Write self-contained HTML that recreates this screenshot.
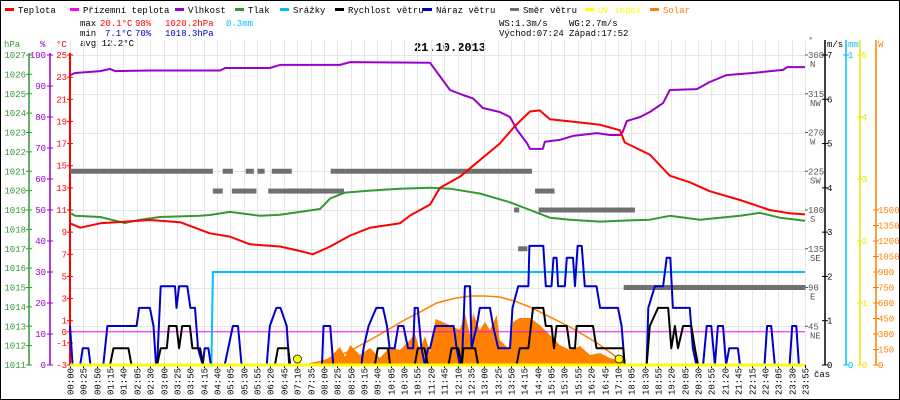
<!DOCTYPE html>
<html><head><meta charset="utf-8"><style>
html,body{margin:0;padding:0;background:#fff}
svg{display:block;font-family:"Liberation Mono",monospace;font-size:9px}
</style></head><body>
<svg id="c" width="900" height="400" viewBox="0 0 900 400" xmlns="http://www.w3.org/2000/svg">
<rect x="0.5" y="0.5" width="899" height="399" fill="#fff" stroke="#000"/>
<g id="legend"></g>
<g>
<text x="80" y="26" fill="#000">max</text><text x="100" y="26" fill="#f00">20.1°C</text><text x="135" y="26" fill="#f00">98%</text><text x="165" y="26" fill="#f00">1020.2hPa</text><text x="226" y="26" fill="#00bfff">0.3mm</text>
<text x="80" y="36" fill="#000">min</text><text x="105" y="36" fill="#00c">7.1°C</text><text x="135" y="36" fill="#00c">70%</text><text x="165" y="36" fill="#00c">1018.3hPa</text>
<text x="80" y="46" fill="#000">avg 12.2°C</text>
<text x="499" y="26" fill="#000">WS:1.3m/s</text><text x="569" y="26" fill="#000">WG:2.7m/s</text>
<text x="499" y="36" fill="#000">Východ:07:24</text><text x="569" y="36" fill="#000">Západ:17:52</text>
</g>
<text x="450" y="51" text-anchor="middle" font-size="12" font-weight="bold" fill="#000">21.10.2013</text>
<g id="grid"></g><g id="axes"></g><g id="series"></g>
</svg>
<script>
// ---- data (plot position in "minutes" of 0..1435 / values) ----
const tempT=[0,20,59,156,215,273,312,351,410,449,474,508,547,586,644,664,703,722,761,800,839,869,898,917,937,976,1035,1074,1083,1132,1171,1210,1249,1308,1366,1405,1435];
const tempV=[9.8,9.4,9.8,10.1,9.9,8.9,8.6,7.9,7.7,7.3,7.0,7.7,8.7,9.4,9.8,10.5,11.5,13.0,14,15.5,17,18.6,19.9,20.0,19.2,19.0,18.7,18.2,17.1,16,14.1,13.5,12.7,11.9,11,10.7,10.6];
const humT=[0,10,59,78,88,156,293,303,390,410,527,547,703,742,767,787,806,839,859,873,892,898,923,927,956,982,1029,1054,1074,1079,1087,1113,1132,1158,1171,1224,1249,1282,1333,1392,1400,1435];
const humV=[93.5,94.2,94.8,95.5,94.8,95,95,95.8,95.8,96.8,96.8,97.7,97.5,88.7,87.1,86,82.9,81.6,80,75.8,71.6,69.7,69.7,72,72.6,73.9,74.8,74.2,74.2,75.2,78.7,80,81.6,84.5,88.7,89,91.3,93.5,94.2,95.2,96.1,96.1];
const presT=[0,10,59,107,137,176,254,273,312,371,410,449,488,508,537,586,644,703,742,800,859,898,937,976,1035,1074,1132,1171,1230,1308,1347,1386,1435];
const presV=[1018.85,1018.7,1018.64,1018.33,1018.5,1018.64,1018.7,1018.74,1018.9,1018.7,1018.75,1018.9,1019.05,1019.6,1019.9,1020.0,1020.1,1020.15,1020.1,1019.85,1019.4,1019.0,1018.6,1018.5,1018.4,1018.45,1018.5,1018.7,1018.5,1018.7,1018.85,1018.6,1018.45];
const groundT=[0,1435];
const groundV=[0,0];
const rainT=[0,276,279,1435];
const rainV=[0,0,0.3,0.3];
const uvT=[0,1435];
const uvV=[0,0];
const gustT=[0,5,20,25,36,40,65,73,130,135,156,163,168,170,177,205,208,213,229,235,244,250,259,263,270,275,302,318,328,335,384,390,403,411,423,428,492,495,508,514,569,573,583,598,611,619,624,634,641,651,660,670,673,679,686,693,699,703,713,749,755,761,765,768,771,781,784,794,800,820,826,836,859,864,875,895,897,924,929,940,944,950,953,966,970,982,986,991,999,1005,1028,1035,1070,1077,1083,1126,1129,1142,1158,1165,1172,1177,1210,1216,1223,1236,1243,1252,1259,1265,1275,1281,1287,1304,1308,1356,1361,1369,1376,1405,1410,1418,1423,1435];
const gustV=[0.88,0,0,0.38,0.38,0,0,0.88,0.88,1.29,1.29,0.88,0,0,1.78,1.78,1.29,1.78,1.78,1.29,1.29,0.38,0,0.38,0.38,0,0,0.88,0.88,0,0,0.88,1.29,1.29,0.88,0,0,0.88,0.88,0,0,0.38,0.88,1.29,1.29,0.88,0.38,0.38,0.88,0.88,0.38,0.38,1.29,1.29,0.38,0,0.38,0.38,0.88,0.88,0.38,0,0,0.88,1.78,1.78,0.38,0.88,1.29,1.29,0.88,0.38,0.38,1.29,1.78,1.78,2.69,2.69,1.78,1.78,2.42,2.42,1.78,1.78,2.42,2.42,1.78,2.69,2.69,1.78,1.78,1.29,1.29,0.88,0,0,1.29,1.78,1.78,2.42,2.42,1.29,1.29,0.38,0,0,0.88,0.88,0,0.88,0.88,0,0.38,0.38,0,0,0.88,0.88,0,0,0.88,0.88,0,0];
const speedT=[0,78,85,114,120,170,177,189,193,208,213,219,234,239,254,260,400,406,426,430,595,601,621,625,673,679,692,699,739,745,758,765,768,791,797,872,878,895,904,924,929,940,945,950,970,976,986,989,1021,1028,1080,1083,1126,1132,1148,1168,1174,1181,1187,1197,1213,1220,1226,1435];
const speedV=[0,0,0.38,0.38,0,0,0.38,0.38,0.88,0.88,0.38,0.88,0.88,0.38,0.38,0,0,0.38,0.38,0,0,0.38,0.38,0,0,0.38,0.38,0,0,0.38,0.38,0,0.38,0.38,0,0,0.38,0.38,1.29,1.29,0.88,0.88,0.38,0.88,0.88,0.38,0.38,0.88,0.88,0.38,0.38,0,0,0.88,1.29,1.29,0.38,0.88,0.38,0.88,0.88,0.38,0,0];
const dirStart=[0,279,298,343,366,394,509,537,279,316,327,336,348,387,420,454,459,867,908,875,915,1081,1083];
const dirEnd=[279,298,318,359,380,433,537,902,298,343,333,351,364,474,535,458,466,877,946,893,1103,1436,1436];
const dirDeg=[225,202,225,225,225,225,225,225,202,202,202,202,202,202,202,202,202,180,202,135,180,90,90];
const solarT=[459,474,488,508,527,537,547,566,586,605,625,644,664,673,683,693,703,714,732,761,771,781,787,800,810,820,833,839,859,865,878,898,917,937,956,976,996,1015,1035,1054,1074,1093];
const solarV=[0,10,20,77,174,80,194,97,165,68,174,145,242,310,145,281,126,445,406,339,503,290,503,339,416,339,484,242,145,416,455,455,387,290,194,145,184,97,116,68,39,0];
const solarMaxT=[459,490,521,555,586,620,655,690,716,750,781,810,839,870,898,935,976,1003,1029,1055,1079,1087];
const solarMaxV=[0,35,77,160,242,340,440,530,600,645,668,668,658,615,560,470,368,290,213,120,29,0];
const sunT=[444,1072];
const timeLabels=["00:00","00:25","00:50","01:15","01:40","02:05","02:30","03:00","03:25","03:50","04:15","04:40","05:05","05:30","05:55","06:20","06:45","07:10","07:35","08:00","08:25","08:50","09:15","09:40","10:05","10:30","10:55","11:20","11:45","12:10","12:35","13:00","13:25","13:50","14:15","14:40","15:05","15:30","15:55","16:20","16:45","17:10","18:05","18:30","18:55","19:20","20:05","20:30","20:55","21:20","21:45","22:15","22:40","23:05","23:30","23:55"];
const tempTicks=[25,23,21,19,17,15,13,11,9,7,5,3,1,0,-1,-3];
const presTicks=[1011,1012,1013,1014,1015,1016,1017,1018,1019,1020,1021,1022,1023,1024,1025,1026,1027];
const humTicks=[0,10,20,30,40,50,60,70,80,90,100];
const dirTicks=[45,90,135,180,225,270,315,360];
const dirNames=["NE","E","SE","S","SW","W","NW","N"];
const msTicks=[0,1,2,3,4,5,6,7];
const mmTicks=[0,1];
const uvTicks=[0,1,2,3,4,5];
const wTicks=[0,150,300,450,600,750,900,1050,1200,1350,1500];

// ---- scales ----
const X0=70,X1=805,YT=55,YB=365;
const xOf=m=>X0+m/1435*(X1-X0);
const xIdx=i=>X0+i*(X1-X0)/(timeLabels.length-1);
const yT=t=>YT+(25-t)*(YB-YT)/28;
const yH=h=>YB-h*(YB-YT)/100;
const yP=p=>YB-(p-1011)*(YB-YT)/16;
const yD=d=>YB-d*(YB-YT)/360;
const yV=v=>YB-v*(YB-YT)/7;
const yMM=v=>YB-v*(YB-YT);
const yUV=v=>YB-v*(YB-YT)/5;
const yW=w=>YB-w*(YB-YT)/3000;
const NS="http://www.w3.org/2000/svg";
function mk(tag,attrs,parent){const e=document.createElementNS(NS,tag);for(const k in attrs)e.setAttribute(k,attrs[k]);parent.appendChild(e);return e;}
const grid=document.getElementById('grid'),axes=document.getElementById('axes'),series=document.getElementById('series'),legend=document.getElementById('legend');

// legend
const legNames=["Teplota","Přízemní teplota","Vlhkost","Tlak","Srážky","Rychlost větru","Náraz větru","Směr větru","UV index","Solar"];
const legColors=["#f00","#f0f","#90c","#393","#00bfff","#000","#00c","#707070","#ff0","#ff8000"];
const legX=[5,70,175,235,280,335,423,510,585,650];
for(let i=0;i<legNames.length;i++){
  const g=mk('g',{},legend);
  
  
  mk('rect',{x:legX[i],y:8,width:9,height:3,fill:legColors[i]},g);
  const t=mk('text',{x:legX[i]+13,y:13,fill:(i>=8?legColors[i]:'#000')},g);t.textContent=legNames[i];
}

// grid + x labels
for(let i=0;i<timeLabels.length;i++){const x=Math.round(xIdx(i))+0.5;
  const l=mk('line',{x1:x,x2:x,y1:40,y2:YB,stroke:'#e6e6e6'},grid);
  
  
  mk('line',{x1:x,x2:x,y1:YB,y2:YB+3,stroke:'#000'},axes);
  const t=mk('text',{x:0,y:0,transform:`translate(${x+3},395) rotate(-90)`,fill:'#000'},axes);t.textContent=timeLabels[i];
  
  
}
for(let d=45;d<=360;d+=45){const y=Math.round(yD(d))+0.5;
  const l=mk('line',{x1:X0,x2:X1,y1:y,y2:y,stroke:'#e6e6e6'},grid);
  
  }

// left axes
function vAxis(x,color,ticks,yf,labX,unit,unitX,name){
  const g=mk('g',{},axes);
  
  
  mk('line',{x1:x,x2:x,y1:YT-2,y2:YB,stroke:color,'stroke-width':(name==='temp-axis'?2:1.5)},g);
  ticks.forEach(v=>{const y=yf(v);mk('line',{x1:x-3,x2:x+3,y1:y,y2:y,stroke:color},g);
    const t=mk('text',{x:labX,y:y+3,fill:color,'text-anchor':'end'},g);t.textContent=v;});
  const u=mk('text',{x:unitX,y:47,fill:color},g);u.textContent=unit;
}
vAxis(29,'#393',presTicks,yP,26,'hPa',4,'pressure-axis');
vAxis(50,'#90c',humTicks,yH,46,'%',40,'humidity-axis');
vAxis(70,'#f00',tempTicks,yT,67,'°C',56,'temp-axis');
// right axes
(function(){const g=mk('g',{},axes);
  
  
  const u=mk('text',{x:808,y:43,fill:'#555'},g);u.textContent='°';
  dirTicks.forEach((d,i)=>{const y=yD(d);mk('line',{x1:805,x2:808,y1:y,y2:y,stroke:'#555'},g);
    const t=mk('text',{x:808,y:y+3,fill:'#555'},g);t.textContent=d;
    const n=mk('text',{x:810,y:y+12,fill:'#555'},g);n.textContent=dirNames[i];});
})();
function rAxis(x,color,ticks,yf,unit,unitX,name){
  const g=mk('g',{},axes);
  
  
  mk('line',{x1:x,x2:x,y1:40,y2:YB,stroke:color,'stroke-width':1.5},g);
  ticks.forEach(v=>{const y=yf(v);mk('line',{x1:x-3,x2:x+3,y1:y,y2:y,stroke:color},g);
    const t=mk('text',{x:x+2,y:y+3,fill:color},g);t.textContent=v;});
  const u=mk('text',{x:unitX,y:47,fill:color},g);u.textContent=unit;
}
rAxis(825,'#000',msTicks,yV,'m/s',827,'wind-axis');
rAxis(846,'#00bfff',mmTicks,yMM,'mm',848,'rain-axis');
rAxis(860,'#e8e800',uvTicks,yUV,'',862,'uv-axis');
rAxis(876,'#ff8000',wTicks,yW,'W',878,'solar-axis');
const cas=mk('text',{x:814,y:377,fill:'#000'},axes);cas.textContent='čas';



// series helpers
function pts(T,V,yf){return T.map((t,i)=>xOf(t).toFixed(1)+','+yf(V[i]).toFixed(1)).join(' ');}
const sf=mk('polygon',{points:xOf(solarT[0])+','+YB+' '+pts(solarT,solarV,yW)+' '+xOf(solarT[solarT.length-1])+','+YB,fill:'#ff8000'},series);


const sm=mk('polyline',{points:pts(solarMaxT,solarMaxV,yW),fill:'none',stroke:'#ff8000','stroke-width':1.5},series);


for(let i=0;i<dirDeg.length;i++){const y=yD(dirDeg[i]);
  const r=mk('rect',{x:xOf(dirStart[i]),y:y-2.5,width:Math.max(2,xOf(dirEnd[i])-xOf(dirStart[i])),height:5,fill:'#707070'},series);
  
  }
function line(T,V,yf,color,w,name){const p=mk('polyline',{points:pts(T,V,yf),fill:'none',stroke:color,'stroke-width':w,'stroke-linejoin':'round'},series);
  
  }
line(groundT,groundV,yT,'#f0f',1,'ground-temp-line');
line(rainT,rainV,yMM,'#00bfff',2,'rain-line');
line(presT,presV,yP,'#393',2,'pressure-line');
line(humT,humV,yH,'#90c',2,'humidity-line');
line(tempT,tempV,yT,'#f00',2,'temperature-line');
line(gustT,gustV,yV,'#00c',2,'wind-gust-line');
line(speedT,speedV,yV,'#000',2,'wind-speed-line');
line(uvT,uvV,yUV,'#ff0',3,'uv-line');
sunT.forEach(t=>{const c=mk('circle',{cx:xOf(t),cy:359,r:4,fill:'#ff0',stroke:'#000','stroke-width':0.7},series);
  
  });
</script>
</body></html>
